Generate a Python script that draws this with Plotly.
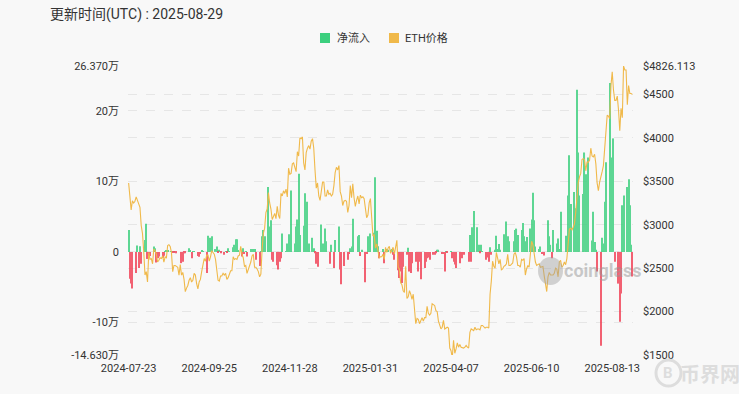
import pandas as pd
import plotly.graph_objects as go

# ---------------- categories ----------------
dates_all = pd.date_range("2024-07-23", "2025-08-29", freq="D")
missing_dates = ["2025-02-15", "2025-02-16"]
dates = [d.strftime("%Y-%m-%d") for d in dates_all if d.strftime("%Y-%m-%d") not in missing_dates]

# ---------------- net flow (万 ETH), daily ----------------
flow_2024_07 = [3.1, -3.8, -4.5, -5.2, 0, 0, -3.0, 0.9, -2.3]
flow_2024_08 = [0.8, -1.7, 0, 0, 1.7, 4.0, -1.0, -0.6, -0.6, 0,
                0, 0.75, 0.5, -1.5, -0.9, -0.65, 0, 0, -0.85, -0.55,
                0.1, 0.2, 0.15, 0, 0, 0.1, -0.1, 0.1, -0.1, -0.2, 0]
flow_2024_09 = [0, 0, -1.6, -1.4, -0.2, -0.2, 0, 0, 0.5, 0.2,
                -0.9, 0.1, 0.1, 0, 0, -0.6, -0.7, -0.3, 0.2, 0.1,
                0, 0, -3.0, 2.3, 1.6, 2.0, 2.2, 0, 0, 0.4]
flow_2024_10 = [0.75, -0.1, 0.3, -0.2, 0, 0, -0.4, 0.1, -0.1, 0.5,
                0.1, 0, 0, 0.65, 1.0, 1.8, 1.8, 0.2, 0, 0,
                -0.65, 0.5, -0.3, 0.1, -0.65, 0, 0, 0.4, 0.3, 0.4, 0.4]
flow_2024_11 = [-1.1, 0, 0, -2.0, 0.1, 2.2, 3.1, 2.2, 0, 0,
                9.2, 3.6, 4.5, -1.1, -1.4, 0, 0, -1.9, -2.5, -1.4,
                -0.9, 2.6, 0, 0, 0.1, 1.2, 2.5, 0, 8.7, 0]
flow_2024_12 = [0, 1.2, 3.6, 4.6, 11.1, 2.4, 0, 0, 3.7, 8.3,
                2.6, 7.1, 1.2, 0, 0, 2.0, 0.5, -0.2, -1.7, -2.1,
                0, 0, 3.9, 1.2, 0, 3.3, 1.5, 0, 0, -1.7, 1.0]
flow_2025_01 = [0, -2.3, 1.7, 0, 0, 3.6, -2.5, -4.6, 0, -2.0,
                0, 0, -1.1, -0.3, 0.5, 0.75, 4.7, 0, 0, 0,
                2.2, 2.4, -0.6, 0.3, 0, 0, -4.3, -0.3, 2.2, 0.75, 2.6]
flow_2025_02 = [0, 0, 2.7, 10.6, 3.0, 0.8, -0.9, 0, 0, 0.4,
                -1.6, 0.4, 0.4, 0.3,
                0, 0.3, 0.4, -0.4, -1.1, 0, 0, -2.6, -3.7, -2.8, -4.4, -2.1]
flow_2025_03 = [0, 0, -0.4, 0.6, -2.8, -3.0, -1.6, 0, 0, -1.4,
                -0.9, -2.8, -1.4, -3.9, 0, 0, -2.3, -1.4, -0.9, -0.8,
                -1.1, 0, 0, -0.4, -0.4, -0.2, 0.3, 0.3, 0, 0, -0.3]
flow_2025_04 = [-0.3, -2.8, 0.1, -0.1, 0, 0, 0.1, -0.9, -1.4, -1.8,
                -2.3, 0, 0, -1.6, -0.7, -0.9, -0.4, 0, 0, 0,
                -1.4, 2.4, -1.4, 3.5, 5.8, 0, 0, 3.5, 1.0, -0.2]
flow_2025_05 = [1.0, 0.1, 0, 0, -1.1, -0.8, -1.4, 0.65, -0.4, 0,
                0, 0.3, 2.3, 0.4, 1.1, 0.3, 0, 0, 2.5, 0.4,
                4.3, 2.2, 1.5, 0, 0, 0, 1.5, 3.1, 3.3, 2.4, 0]
flow_2025_06 = [0, 3.1, 4.1, 2.2, 1.5, 2.1, 0, 0, 3.3, 4.6,
                8.4, 4.5, 0.75, 0, 0, 0.4, 0.75, -0.3, 0, -0.5,
                0, 0, 4.5, 2.2, 1.0, -0.9, 3.1, 0, 0, 1.2]
flow_2025_07 = [1.9, 0.4, 5.7, 0, 0, 0, 2.3, 1.9, 8.0, 13.7,
                6.8, 0, 0, 8.5, 6.2, 23.0, 14.1, 8.0, 0, 0,
                8.2, 14.1, 11.0, 6.1, 13.4, 0, 0, 1.6, 5.7, 1.4, 0.3]
flow_2025_08 = [-2.8, 0, 0, -13.3, 2.0, 1.2, 7.1, 12.7, 0, 0,
                23.97, 12.2, 13.4, 16.1, -1.4, 0, 0, -4.5, -9.9, -5.9,
                6.6, 8.0, 0, 0, 9.2, 10.3, 6.6, 1.0, -3.5]

# ---------------- ETH price (USD), daily ----------------
price_2024_07 = [3480, 3340, 3170, 3275, 3250, 3270, 3320, 3280, 3230]
price_2024_08 = [3200, 2990, 2900, 2690, 2420, 2460, 2340, 2680, 2600, 2610,
                 2550, 2720, 2700, 2660, 2570, 2590, 2620, 2610, 2640, 2570,
                 2630, 2620, 2760, 2770, 2750, 2680, 2460, 2530, 2530, 2520, 2510]
price_2024_09 = [2420, 2540, 2420, 2450, 2370, 2230, 2270, 2300, 2360, 2390,
                 2340, 2360, 2440, 2420, 2320, 2260, 2340, 2370, 2460, 2560,
                 2610, 2580, 2650, 2650, 2580, 2630, 2700, 2680, 2660, 2600]
price_2024_10 = [2450, 2360, 2350, 2410, 2410, 2440, 2420, 2440, 2370, 2390,
                 2430, 2470, 2470, 2630, 2600, 2610, 2600, 2640, 2650, 2750,
                 2660, 2620, 2520, 2530, 2440, 2480, 2510, 2570, 2640, 2660, 2510]
price_2024_11 = [2510, 2490, 2460, 2400, 2430, 2720, 2900, 2960, 3140, 3180,
                 3370, 3250, 3180, 3060, 3110, 3130, 3070, 3210, 3110, 3070,
                 3360, 3330, 3390, 3360, 3410, 3320, 3650, 3580, 3590, 3700]
price_2024_12 = [3710, 3640, 3610, 3840, 3790, 4000, 3990, 4010, 3710, 3630,
                 3830, 3880, 3910, 3870, 3960, 3990, 3880, 3630, 3420, 3480,
                 3330, 3280, 3420, 3490, 3490, 3330, 3330, 3400, 3350, 3360, 3330]
price_2025_01 = [3350, 3450, 3600, 3660, 3630, 3680, 3380, 3330, 3220, 3270,
                 3280, 3270, 3140, 3220, 3450, 3310, 3470, 3310, 3210, 3280,
                 3330, 3240, 3340, 3310, 3320, 3300, 3180, 3080, 3110, 3250, 3300]
price_2025_02 = [3130, 2870, 2880, 2730, 2780, 2690, 2620, 2630, 2630, 2660,
                 2600, 2740, 2680, 2730,
                 2750, 2670, 2720, 2740, 2660, 2770, 2820, 2510, 2490, 2330, 2310, 2240]
price_2025_03 = [2220, 2520, 2150, 2170, 2240, 2200, 2140, 2200, 2020, 1860,
                 1920, 1910, 1860, 1910, 1930, 1890, 1930, 1930, 2060, 1980,
                 1960, 1980, 2090, 2080, 2070, 2010, 2000, 1890, 1830, 1800, 1820]
price_2025_04 = [1900, 1800, 1810, 1820, 1810, 1580, 1550, 1470, 1670, 1520,
                 1570, 1640, 1590, 1620, 1590, 1580, 1580, 1590, 1610, 1590,
                 1580, 1760, 1800, 1790, 1780, 1820, 1790, 1800, 1800, 1790]
price_2025_05 = [1840, 1840, 1830, 1810, 1820, 1820, 1810, 2200, 2350, 2580,
                 2520, 2500, 2680, 2610, 2550, 2600, 2480, 2490, 2520, 2530,
                 2550, 2660, 2530, 2530, 2550, 2560, 2660, 2680, 2630, 2530, 2530]
price_2025_06 = [2510, 2600, 2590, 2610, 2420, 2490, 2530, 2510, 2680, 2810,
                 2770, 2640, 2570, 2530, 2540, 2550, 2510, 2520, 2520, 2410,
                 2300, 2230, 2400, 2450, 2420, 2420, 2420, 2440, 2500, 2490]
price_2025_07 = [2400, 2570, 2590, 2510, 2530, 2570, 2540, 2610, 2770, 2950,
                 2960, 2940, 2970, 3010, 3140, 3370, 3480, 3550, 3590, 3750,
                 3760, 3750, 3620, 3720, 3720, 3740, 3880, 3790, 3780, 3810, 3700]
price_2025_08 = [3480, 3390, 3490, 3570, 3610, 3680, 3910, 4010, 4260, 4250,
                 4220, 4600, 4760, 4550, 4430, 4430, 4480, 4320, 4080, 4340,
                 4230, 4826.113, 4780, 4780, 4380, 4600, 4510, 4510, 4500]

net_flow = (flow_2024_07 + flow_2024_08 + flow_2024_09 + flow_2024_10 + flow_2024_11 +
            flow_2024_12 + flow_2025_01 + flow_2025_02 + flow_2025_03 + flow_2025_04 +
            flow_2025_05 + flow_2025_06 + flow_2025_07 + flow_2025_08)
eth_price = (price_2024_07 + price_2024_08 + price_2024_09 + price_2024_10 + price_2024_11 +
             price_2024_12 + price_2025_01 + price_2025_02 + price_2025_03 + price_2025_04 +
             price_2025_05 + price_2025_06 + price_2025_07 + price_2025_08)

x_tick_labels = ["2024-07-23", "2024-09-25", "2024-11-28", "2025-01-31",
                 "2025-04-07", "2025-06-10", "2025-08-13"]
left_tick_vals = [-14.63, -10, 0, 10, 20, 26.37]
left_tick_text = ["-14.630万", "-10万", "0", "10万", "20万", "26.370万"]
right_tick_vals = [1500, 2000, 2500, 3000, 3500, 4000, 4500, 4826.113]
right_tick_text = ["$1500", "$2000", "$2500", "$3000", "$3500", "$4000", "$4500", "$4826.113"]
legend_names = ["净流入", "ETH价格"]

GREEN = "#3ccf7e"
RED = "#f1475b"
YELLOW = "#f0b94a"
BG = "#f8f8f8"
FONT = "Roboto, 'Noto Sans CJK SC', sans-serif"

pos = [v if v > 0 else None for v in net_flow]
neg = [v if v < 0 else None for v in net_flow]

fig = go.Figure()
fig.add_trace(go.Bar(x=dates, y=pos, name=legend_names[0], marker=dict(color=GREEN, line=dict(width=0)),
                     opacity=0.82, yaxis="y", showlegend=False))
fig.add_trace(go.Bar(x=dates, y=neg, name="净流出", showlegend=False,
                     marker=dict(color=RED, line=dict(width=0)), opacity=0.85, yaxis="y"))
fig.add_trace(go.Scatter(x=dates, y=eth_price, mode="lines", name=legend_names[1], showlegend=False,
                         line=dict(color=YELLOW, width=1.1), yaxis="y2"))

L, R, T, B = 128, 106, 66, 39
W, H = 739, 394
PW, PH = W - L - R, H - T - B


def px(x):
    return (x - L) / PW


def py(y):
    return (H - B - y) / PH


def legend_square(x0, color):
    return dict(type="rect", xref="paper", yref="paper",
                x0=px(x0), x1=px(x0 + 10), y0=py(43), y1=py(33),
                fillcolor=color, line=dict(width=0), layer="above")


fig.update_layout(
    width=W, height=H,
    margin=dict(l=L, r=R, t=T, b=B, pad=0),
    paper_bgcolor=BG, plot_bgcolor=BG,
    font=dict(family=FONT, size=11, color="#333333"),
    barmode="overlay", bargap=0.15,
    showlegend=False,
    xaxis=dict(type="category", range=[-0.5, len(dates) - 0.5],
               tickmode="array", tickvals=x_tick_labels, ticktext=x_tick_labels,
               showgrid=False, zeroline=False, showline=False, ticks="",
               tickfont=dict(size=11, color="#333333"), ticklabelstandoff=5),
    yaxis=dict(range=[-14.63, 26.37], tickmode="array", tickvals=left_tick_vals, ticktext=left_tick_text,
               showgrid=True, gridcolor="#e6e6e6", griddash="dash", gridwidth=1,
               zeroline=False, showline=False, ticks="",
               tickfont=dict(size=11, color="#333333"), ticklabelstandoff=8),
    yaxis2=dict(range=[1500, 4826.113], overlaying="y", side="right",
                tickmode="array", tickvals=right_tick_vals, ticktext=right_tick_text,
                showgrid=True, gridcolor="#e6e6e6", griddash="dash", gridwidth=1,
                zeroline=False, showline=False, ticks="",
                tickfont=dict(size=11, color="#333333"), ticklabelstandoff=9),
    annotations=[
        dict(text="更新时间(UTC) : 2025-08-29", xref="paper", yref="paper",
             x=px(48), y=py(15), xanchor="left", yanchor="middle", showarrow=False,
             font=dict(size=14, color="#333333", family=FONT)),
        dict(text=legend_names[0], xref="paper", yref="paper",
             x=px(335), y=py(38), xanchor="left", yanchor="middle", showarrow=False,
             font=dict(size=11, color="#333333", family=FONT)),
        dict(text=legend_names[1], xref="paper", yref="paper",
             x=px(403), y=py(38), xanchor="left", yanchor="middle", showarrow=False,
             font=dict(size=11, color="#333333", family=FONT)),
        dict(text="<b>coinglass</b>", xref="paper", yref="paper",
             x=px(603), y=py(270), xanchor="center", yanchor="middle", showarrow=False,
             font=dict(size=18, color="rgba(150,150,150,0.5)", family=FONT)),
        dict(text="<b>币界网</b>", xref="paper", yref="paper",
             x=px(710), y=py(373), xanchor="center", yanchor="middle", showarrow=False,
             font=dict(size=20, color="#dddddd", family="'Noto Sans CJK SC', sans-serif")),
        dict(text="<b>B</b>", xref="paper", yref="paper",
             x=px(668), y=py(373), xanchor="center", yanchor="middle", showarrow=False,
             font=dict(size=15, color="#dddddd", family=FONT)),
    ],
    shapes=[
        legend_square(320, GREEN),
        legend_square(389, YELLOW),
        dict(type="circle", xref="paper", yref="paper",
             x0=px(538), x1=px(563), y0=py(285), y1=py(257),
             fillcolor="rgba(160,160,160,0.45)", line=dict(width=0), layer="above"),
        dict(type="circle", xref="paper", yref="paper",
             x0=px(656), x1=px(681), y0=py(386), y1=py(360),
             fillcolor="rgba(0,0,0,0)", line=dict(width=3, color="#dddddd"), layer="above"),
    ],
)

fig.write_html("out.html", post_script="document.body.style.margin='0';",
               config={"displayModeBar": False})
